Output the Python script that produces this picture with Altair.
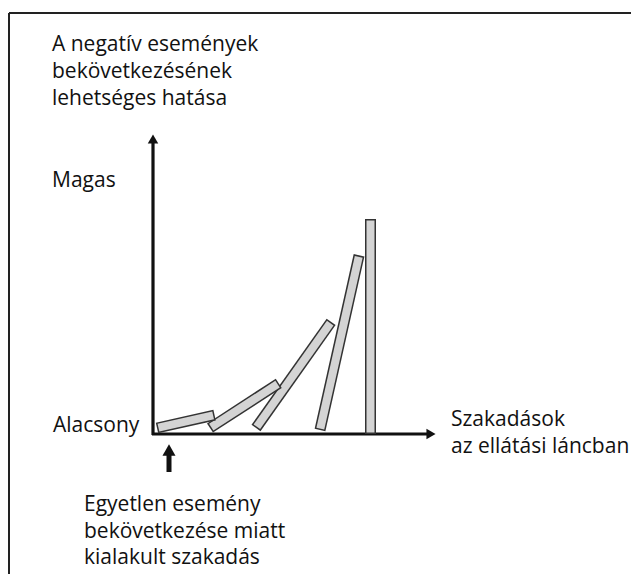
import altair as alt
import pandas as pd
import numpy as np

# Dominoes: bottom point (x, y) of centre line, tilt angle (deg from horizontal), length
dom_x0 = [157, 210, 256, 320, 370.5]
dom_y0 = [428, 428, 428, 430, 434]
dom_angle = [12.6, 33.0, 54.7, 77.4, 90.0]
dom_len = [59, 82, 130, 179, 215]

# Text labels
lab_text = ["A negatív események", "bekövetkezésének", "lehetséges hatása",
            "Magas", "Alacsony", "Szakadások", "az ellátási láncban",
            "Egyetlen esemény", "bekövetkezése miatt", "kialakult szakadás"]
lab_x = [52, 52, 52, 52, 53, 451, 451, 84, 84, 84]
lab_y = [45, 72, 99, 181, 426, 420, 447, 505, 532, 558]

W, H = 623, 566
xs = alt.Scale(domain=[8, 8 + W], nice=False, zero=False)
ys = alt.Scale(domain=[8, 8 + H], nice=False, zero=False, reverse=True)


def rule_layer(df, color, width, cap="butt"):
    return alt.Chart(df).mark_rule(color=color, strokeWidth=width, strokeCap=cap).encode(
        x=alt.X("x:Q", scale=xs, axis=None),
        y=alt.Y("y:Q", scale=ys, axis=None),
        x2="x2", y2="y2")


layers = []
# frame
frame = pd.DataFrame({"x": [9, 9, 633], "y": [13, 13, 13], "x2": [633, 9, 633], "y2": [13, 600, 600]})
layers.append(rule_layer(frame, "#222222", 2))

# axes
axes = pd.DataFrame({"x": [152, 153], "y": [434, 435], "x2": [428, 153], "y2": [434, 142]})
layers.append(rule_layer(axes, "#111111", 3.2))
heads = pd.DataFrame({"x": [431, 153], "y": [434, 139], "shape": ["triangle-right", "triangle-up"]})
layers.append(alt.Chart(heads).mark_point(filled=True, color="#111111", size=110, opacity=1).encode(
    x=alt.X("x:Q", scale=xs, axis=None), y=alt.Y("y:Q", scale=ys, axis=None),
    shape=alt.Shape("shape:N", scale=None)))

# small arrow
sarrow = pd.DataFrame({"x": [169], "y": [472], "x2": [169], "y2": [452]})
layers.append(rule_layer(sarrow, "#111111", 5))
shead = pd.DataFrame({"x": [169], "y": [450]})
layers.append(alt.Chart(shead).mark_point(filled=True, color="#111111", size=170, shape="triangle-up", opacity=1).encode(
    x=alt.X("x:Q", scale=xs, axis=None), y=alt.Y("y:Q", scale=ys, axis=None)))

# dominoes (rightmost first so left ones lie on top)
for i in reversed(range(len(dom_x0))):
    a = np.deg2rad(dom_angle[i])
    x0, y0, L = dom_x0[i], dom_y0[i], dom_len[i]
    x1, y1 = x0 + L * np.cos(a), y0 - L * np.sin(a)
    outer = pd.DataFrame({"x": [x0], "y": [y0], "x2": [x1], "y2": [y1]})
    d = 1.5
    inner = pd.DataFrame({"x": [x0 + d * np.cos(a)], "y": [y0 - d * np.sin(a)],
                          "x2": [x1 - d * np.cos(a)], "y2": [y1 + d * np.sin(a)]})
    layers.append(rule_layer(outer, "#333333", 11))
    layers.append(rule_layer(inner, "#d4d4d4", 8))

labels = pd.DataFrame({"x": lab_x, "y": lab_y, "t": lab_text})
layers.append(alt.Chart(labels).mark_text(align="left", baseline="middle", font="Open Sans",
                                          fontSize=21, color="#111111").encode(
    x=alt.X("x:Q", scale=xs, axis=None), y=alt.Y("y:Q", scale=ys, axis=None), text="t"))

chart = alt.layer(*layers).properties(
    width=W, height=H, padding=0, autosize="none"
).configure_view(stroke=None)

chart.save("out.html", embed_options={"renderer": "svg", "actions": False})
